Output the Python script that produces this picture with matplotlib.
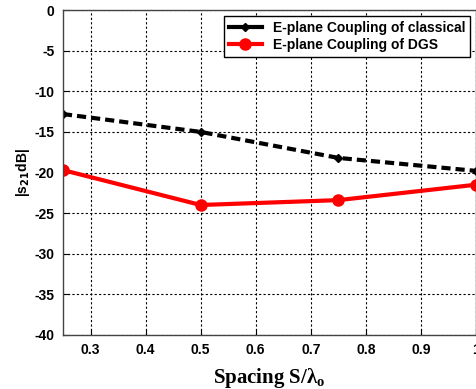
import matplotlib.pyplot as plt
from matplotlib.lines import Line2D

# spacing S/lambda_o and coupling |S21| in dB
spacing = [0.25, 0.5, 0.75, 1.0]
classical = [-12.8, -15.0, -18.2, -19.8]
dgs = [-19.7, -24.0, -23.4, -21.5]
xticks = [0.3, 0.4, 0.5, 0.6, 0.7, 0.8, 0.9, 1.0]
xticklabels = ['0.3', '0.4', '0.5', '0.6', '0.7', '0.8', '0.9', '1']
yticks = [0, -5, -10, -15, -20, -25, -30, -35, -40]

plt.rcParams['font.family'] = 'Liberation Sans'
plt.rcParams['font.weight'] = 'bold'
plt.rcParams['axes.unicode_minus'] = False

fig = plt.figure(figsize=(4.77, 3.89), dpi=100)
ax = fig.add_axes([0.132, 0.139, 0.866, 0.835])

ax.plot(spacing, classical, color='black', lw=3, ls=(0, (2.2, 1.2)),
        marker='D', ms=4)
ax.plot(spacing, dgs, color='red', lw=3, marker='o', ms=8)

ax.set_xlim(0.25, 1.0)
ax.set_ylim(-40, 0)
ax.set_xticks(xticks)
ax.set_xticklabels(xticklabels)
ax.set_yticks(yticks)
ax.tick_params(direction='in', labelsize=10, length=4, pad=6)
ax.grid(True, color='black', ls=(0, (2, 2)), lw=0.8)
for s in ax.spines.values():
    s.set_linewidth(1)
    s.set_color('#444444')

ax.set_ylabel('|s$_{21}$dB|', fontsize=10, fontweight='bold', labelpad=2)
ax.set_xlabel('Spacing S/λ$_\\mathregular{o}$', fontsize=15, fontweight='bold',
              family='Liberation Serif', labelpad=6)

handles = [Line2D([], [], color='black', lw=3, marker='D', ms=4),
           Line2D([], [], color='red', lw=3, marker='o', ms=8)]
leg = ax.legend(handles, ['E-plane Coupling of classical', 'E-plane Coupling of DGS'],
                loc='upper right', fontsize=10, fancybox=False, framealpha=1,
                edgecolor='black', borderaxespad=0.4, handlelength=2.4,
                borderpad=0.35, labelspacing=0.25)
leg.get_frame().set_linewidth(1)

fig.savefig('out.png', dpi=100)
